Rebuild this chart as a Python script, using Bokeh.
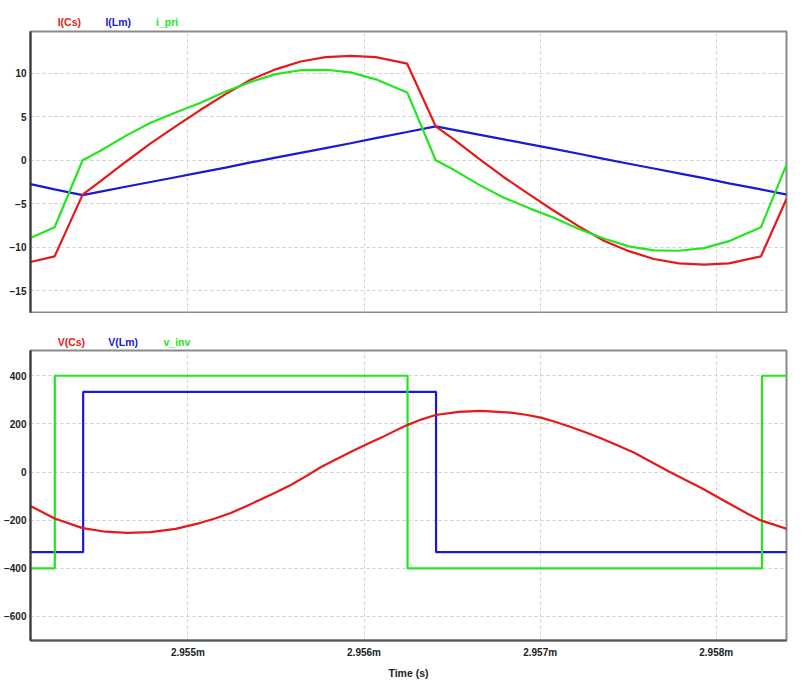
from bokeh.plotting import figure
from bokeh.layouts import column
from bokeh.models import Range1d, FixedTicker, PrintfTickFormatter
from bokeh.core.properties import value
from bokeh.embed import file_html
from bokeh.resources import INLINE

# ---------------- data (time in ms) ----------------
x_ticks = [2.955, 2.956, 2.957, 2.958]
x_start, x_end = 2.954106, 2.958399

# top panel: currents (A)
t_cur = [2.954106, 2.954243, 2.954402, 2.954504, 2.954646, 2.954788, 2.954930,
         2.955072, 2.955214, 2.955356, 2.955498, 2.955640, 2.955782, 2.955924,
         2.956067, 2.956245, 2.956407, 2.956510, 2.956652, 2.956794, 2.956936,
         2.957078, 2.957220, 2.957362, 2.957504, 2.957646, 2.957788, 2.957930,
         2.958072, 2.958254, 2.958402]
i_cs = [-11.7, -11.05, -3.95, -2.4, -0.2, 1.95, 3.9, 5.8, 7.6, 9.25, 10.45, 11.35,
        11.85, 12.0, 11.85, 11.1, 3.9, 2.4, 0.2, -1.95, -3.9, -5.8, -7.6, -9.25,
        -10.45, -11.35, -11.85, -12.0, -11.85, -11.05, -4.3]
i_lm = [-2.75, -3.35, -4.0, -3.6, -3.05, -2.5, -1.95, -1.4, -0.85, -0.25, 0.3, 0.85,
        1.4, 1.95, 2.55, 3.25, 3.9, 3.5, 2.95, 2.4, 1.85, 1.3, 0.75, 0.15, -0.4,
        -0.95, -1.5, -2.05, -2.65, -3.35, -3.95]
i_pri = [-8.95, -7.7, 0.0, 1.1, 2.8, 4.3, 5.5, 6.6, 7.9, 9.0, 9.9, 10.35, 10.4, 10.1,
         9.3, 7.8, 0.0, -1.1, -2.8, -4.3, -5.5, -6.6, -7.9, -9.0, -9.9, -10.35,
         -10.4, -10.1, -9.3, -7.7, -0.35]
cur_ticks = [-15, -10, -5, 0, 5, 10]
cur_names = ["I(Cs)", "I(Lm)", "i_pri"]

# bottom panel: voltages (V)
t_vcs = [2.954106, 2.954243, 2.954402, 2.954532, 2.954657, 2.954788, 2.954930,
         2.955072, 2.955158, 2.955243, 2.955328, 2.955413, 2.955498, 2.955584,
         2.955669, 2.955754, 2.955839, 2.955924, 2.956009, 2.956095, 2.956172,
         2.956248, 2.956328, 2.956407, 2.956538, 2.956663, 2.956834, 2.956919,
         2.957004, 2.957089, 2.957174, 2.957260, 2.957345, 2.957438, 2.957532,
         2.957629, 2.957726, 2.957820, 2.957913, 2.958007, 2.958101, 2.958178,
         2.958254, 2.958402]
v_cs = [-141, -193, -233, -248, -253, -250, -236, -211, -192, -170, -143, -114,
        -85, -54, -18, 20, 52, 83, 113, 142, 170, 196, 219, 237, 250, 254, 247,
        238, 226, 208, 187, 164, 140, 111, 81, 43, 4, -31, -65, -104, -142, -173,
        -201, -236]
t_vlm = [2.954106, 2.954405, 2.956409, 2.958402]
v_lm = [-333, 333, -333, -333]
t_vinv = [2.954106, 2.954244, 2.956247, 2.958260, 2.958402]
v_inv = [-400, 400, -400, 400, 400]
volt_ticks = [-600, -400, -200, 0, 200, 400]
volt_names = ["V(Cs)", "V(Lm)", "v_inv"]

RED, BLUE, GREEN = "#e61919", "#1a1ad6", "#22e622"
FONT = "Liberation Sans"
W = 807
LEFT, RIGHT = 30, 21
xr = Range1d(x_start, x_end)


def style(p, yticks):
    p.background_fill_color = "white"
    p.border_fill_color = "white"
    p.outline_line_color = "#8a8a8a"
    p.outline_line_width = 2
    for g in (p.xgrid, p.ygrid):
        g.grid_line_color = "#cfcfcf"
        g.grid_line_dash = "3 3"
        g.grid_line_width = 1
    p.xgrid.ticker = FixedTicker(ticks=x_ticks)
    p.ygrid.ticker = FixedTicker(ticks=yticks)
    ax = p.yaxis[0]
    ax.ticker = FixedTicker(ticks=yticks)
    ax.axis_line_color = "#333333"
    ax.axis_line_width = 2
    ax.major_tick_line_color = None
    ax.minor_tick_line_color = None
    ax.major_tick_out = 0
    ax.major_tick_in = 0
    ax.minor_tick_out = 0
    ax.major_label_standoff = 4
    ax.major_label_text_font = FONT
    ax.major_label_text_font_style = "bold"
    ax.major_label_text_font_size = "10px"
    ax.major_label_text_color = "#222222"


def legend_strip(height, names, colors, xs, base_from_bottom):
    s = figure(width=W, height=height, output_backend="svg", toolbar_location=None,
               x_range=Range1d(0, W), y_range=Range1d(0, height),
               x_axis_type=None, y_axis_type=None,
               min_border=0, min_border_left=0, min_border_right=0,
               min_border_top=0, min_border_bottom=0)
    s.outline_line_color = None
    s.background_fill_color = "white"
    s.border_fill_color = "white"
    s.xgrid.visible = False
    s.ygrid.visible = False
    s.text(x=xs, y=[base_from_bottom] * len(names), text=names,
           text_color=colors, text_font=value(FONT), text_font_style="bold",
           text_font_size="10.5px", text_baseline="alphabetic", text_align="left")
    return s


strip1 = legend_strip(30, cur_names, [RED, BLUE, GREEN], [29, 80, 134], 9)

p1 = figure(width=W, height=283, output_backend="svg", toolbar_location=None,
            x_range=xr, y_range=Range1d(-17.5, 14.8),
            min_border_left=LEFT, min_border_right=RIGHT, min_border_top=1,
            min_border_bottom=1)
style(p1, cur_ticks)
p1.xaxis.visible = False
p1.line(t_cur, i_lm, color=BLUE, line_width=2.2)
p1.line(t_cur, i_cs, color=RED, line_width=2.2)
p1.line(t_cur, i_pri, color=GREEN, line_width=2.2)

strip2 = legend_strip(36, volt_names, [RED, BLUE, GREEN], [29, 83, 142], 8)

p2 = figure(width=W, height=332, output_backend="svg", toolbar_location=None,
            x_range=xr, y_range=Range1d(-700, 505),
            min_border_left=LEFT, min_border_right=RIGHT, min_border_top=1,
            min_border_bottom=40)
style(p2, volt_ticks)
xa = p2.xaxis[0]
xa.ticker = FixedTicker(ticks=x_ticks)
xa.formatter = PrintfTickFormatter(format="%.3fm")
xa.axis_line_color = "#555555"
xa.axis_line_width = 2
xa.major_tick_line_color = None
xa.minor_tick_line_color = None
xa.major_tick_out = 0
xa.major_tick_in = 0
xa.minor_tick_out = 0
xa.major_label_standoff = 6
xa.major_label_text_font = FONT
xa.major_label_text_font_style = "bold"
xa.major_label_text_font_size = "10px"
xa.major_label_text_color = "#222222"
xa.axis_label = "Time (s)"
xa.axis_label_standoff = 6
xa.axis_label_text_font = FONT
xa.axis_label_text_font_style = "bold"
xa.axis_label_text_font_size = "10.5px"
xa.axis_label_text_color = "#222222"

p2.step(t_vlm, v_lm, mode="after", color=BLUE, line_width=2.2)
p2.step(t_vinv, v_inv, mode="after", color=GREEN, line_width=2.2)
p2.line(t_vcs, v_cs, color=RED, line_width=2.2)

layout = column(strip1, p1, strip2, p2, spacing=0)
open("out.html", "w").write(file_html(layout, INLINE))
